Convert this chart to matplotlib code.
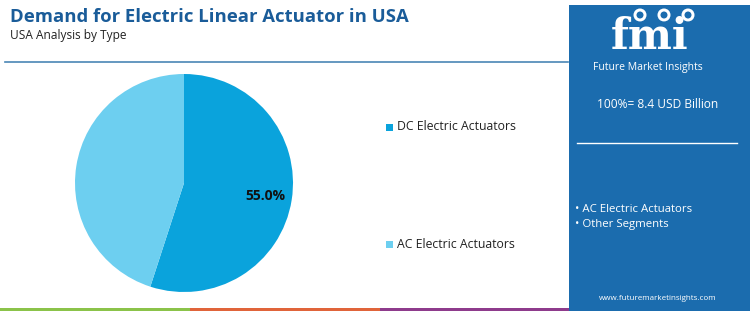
import matplotlib
matplotlib.use("Agg")
import matplotlib.pyplot as plt
from matplotlib.patches import Rectangle, Ellipse
from matplotlib.lines import Line2D

categories = ["DC Electric Actuators", "AC Electric Actuators"]
shares = [55.0, 45.0]
colors = ["#0aa3dc", "#6dcff0"]
title = "Demand for Electric Linear Actuator in USA"
subtitle = "USA Analysis by Type"
total_text = "100%= 8.4 USD Billion"
side_items = ["AC Electric Actuators", "Other Segments"]
url = "www.futuremarketinsights.com"

W, H = 750, 311
fig = plt.figure(figsize=(W / 100, H / 100), dpi=100)
fig.patch.set_facecolor("white")
FONT = ["Open Sans", "DejaVu Sans"]

def fx(x):
    return x / W

def fy(y):
    return 1 - y / H

def txt(x, y, s, **kw):
    kw.setdefault("family", FONT)
    fig.text(fx(x), fy(y), s, **kw)

# title
txt(10, 17, title, fontsize=13.3, fontweight="bold", color="#1a5c99", va="center", ha="left")
txt(10, 36, subtitle, fontsize=8.6, color="#222222", va="center", ha="left")

# separator line
fig.add_artist(Line2D([fx(5), fx(568)], [fy(62), fy(62)], color="#4a86b5", lw=1.2))

# bottom colored strips
strip_cols = ["#8bc34a", "#e0643a", "#8e3b8c"]
for i, c in enumerate(strip_cols):
    fig.add_artist(Rectangle((fx(i * 190), 0), fx(190), 3 / H, color=c, lw=0))

# right panel
fig.add_artist(Rectangle((fx(569), 0), fx(W - 569), fy(5), color="#1b6cae", lw=0))
# logo
txt(650, 49, "fmi", fontsize=30, fontweight="bold", color="white", ha="center", va="baseline",
    family=["DejaVu Serif"])
for yy in range(22, 50, 4):
    fig.add_artist(Line2D([fx(592), fx(710)], [fy(yy), fy(yy)], color="#1b6cae", lw=0.9))
for ccx in [640, 664, 688]:
    fig.add_artist(Ellipse((fx(ccx), fy(15)), 13 / W, 13 / H, color="white", lw=0,
                           transform=fig.transFigure))
    fig.add_artist(Ellipse((fx(ccx), fy(15)), 7 / W, 7 / H, color="#1b6cae", lw=0,
                           transform=fig.transFigure))
txt(648, 67, "Future Market Insights", fontsize=7.5, color="white", ha="center", va="center")
txt(658, 105, total_text, fontsize=8.6, color="white", ha="center", va="center")
fig.add_artist(Line2D([fx(577), fx(737)], [fy(143), fy(143)], color="white", lw=1))
txt(575, 210, "• " + side_items[0], fontsize=8.2, color="white", ha="left", va="center")
txt(575, 225, "• " + side_items[1], fontsize=8.2, color="white", ha="left", va="center")
txt(658, 298, url, fontsize=5.8, color="white", ha="center", va="center")

# pie
cx, cy, r = 184, 183, 109
ax = fig.add_axes([fx(cx - r), fy(cy + r), 2 * r / W, 2 * r / H])
wedges, texts, autotexts = ax.pie(shares, colors=colors, startangle=90, counterclock=False,
                                  autopct=lambda p: f"{p:.1f}%" if p > 50 else "",
                                  pctdistance=0.76, radius=1.0,
                                  wedgeprops=dict(linewidth=0))
for t in autotexts:
    t.set_fontsize(10)
    t.set_fontweight("bold")
    t.set_color("#111111")
    t.set_family(FONT)
ax.set_xlim(-1, 1)
ax.set_ylim(-1, 1)
ax.set_aspect("equal")
ax.axis("off")

# legend
for (lab, col, ly) in [(categories[0], colors[0], 127), (categories[1], colors[1], 244)]:
    fig.add_artist(Rectangle((fx(386), fy(ly + 3.5)), 7 / W, 7 / H, color=col, lw=0))
    txt(397, ly, lab, fontsize=8.8, color="#222222", ha="left", va="center")

fig.savefig("out.png", dpi=100)
